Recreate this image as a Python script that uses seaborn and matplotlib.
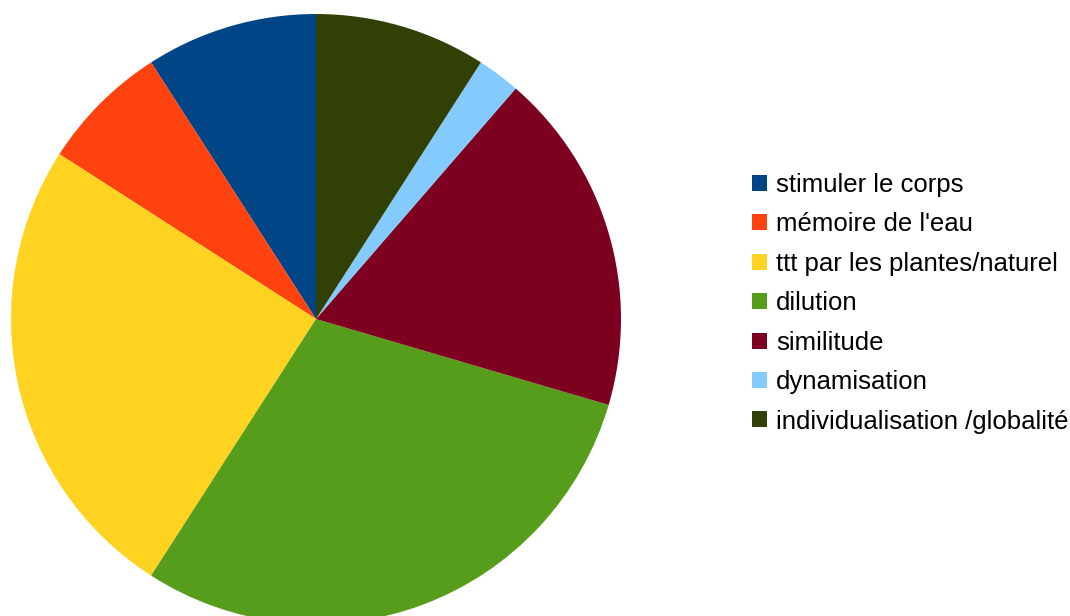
import matplotlib
matplotlib.use("Agg")
import matplotlib.pyplot as plt
import seaborn as sns

sns.set_theme(style="white")
plt.rcParams['font.family'] = ['Liberation Sans', 'DejaVu Sans']
plt.rcParams['text.color'] = 'black'

categories = ["stimuler le corps", "mémoire de l'eau", "ttt par les plantes/naturel",
              "dilution", "similitude", "dynamisation", "individualisation /globalité"]
values = [4, 3, 11, 13, 8, 1, 4]
colors = ["#004586", "#ff420e", "#ffd320", "#579d1c", "#7e0021", "#83caff", "#314004"]

W, H = 1070, 616
fig = plt.figure(figsize=(W / 100, H / 100), dpi=100)
cx, cy, r = 316, 319, 305
ax = fig.add_axes([(cx - r) / W, (H - cy - r) / H, 2 * r / W, 2 * r / H])
wedges, _ = ax.pie(values, colors=colors, startangle=90, counterclock=True,
                   radius=1, wedgeprops=dict(linewidth=0))
ax.set_xlim(-1, 1)
ax.set_ylim(-1, 1)
ax.set_aspect('equal')
ax.axis('off')

leg = fig.legend(wedges, categories, loc='upper left',
                 bbox_to_anchor=(752 / W, 1 - 173 / H),
                 frameon=False, fontsize=18.5, handlelength=0.58, handleheight=0.58,
                 handletextpad=0.35, labelspacing=0.6, borderpad=0, borderaxespad=0)
for t in leg.get_texts():
    t.set_color('black')

fig.savefig("out.png", dpi=100)
